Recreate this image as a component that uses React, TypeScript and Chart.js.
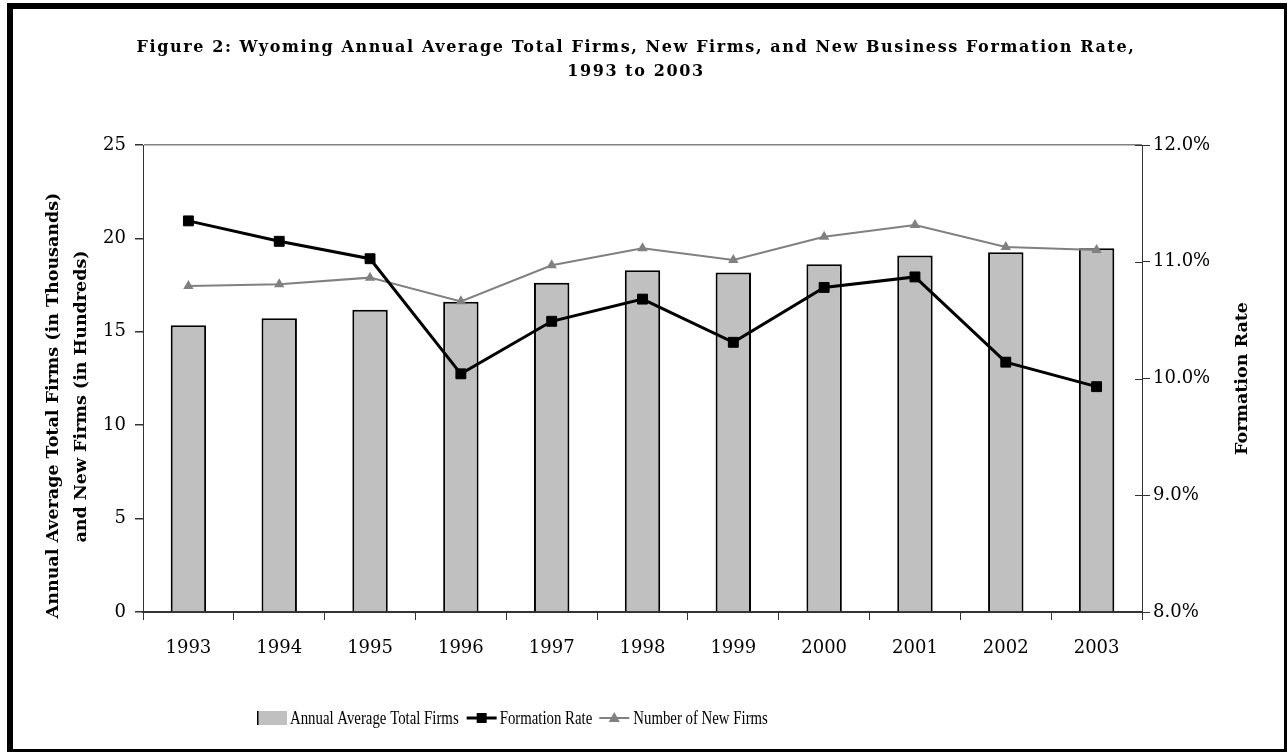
import React, { useEffect, useRef } from "react";
import { Chart, registerables } from "chart.js";

Chart.register(...registerables);

const years = ["1993", "1994", "1995", "1996", "1997", "1998", "1999", "2000", "2001", "2002", "2003"];
const totalFirms = [15.35, 15.72, 16.18, 16.61, 17.63, 18.29, 18.18, 18.61, 19.08, 19.26, 19.47];
const newFirms = [17.45, 17.54, 17.9, 16.63, 18.56, 19.47, 18.84, 20.09, 20.72, 19.54, 19.38];
const formationRate = [11.35, 11.175, 11.026, 10.04, 10.49, 10.68, 10.31, 10.78, 10.87, 10.14, 9.93];
const leftTicks = [0, 5, 10, 15, 20, 25];
const rightTicks = [8, 9, 10, 11, 12];

const titleLines = [
  "Figure 2: Wyoming Annual Average Total Firms, New Firms, and New Business Formation Rate,",
  "1993 to 2003",
];
const leftTitle = ["Annual Average Total Firms (in Thousands)", "and New Firms (in Hundreds)"];
const rightTitle = "Formation Rate";
const legendLabels = ["Annual Average Total Firms", "Formation Rate", "Number of New Firms"];

const SERIF = "'DejaVu Serif', serif";

const extrasPlugin = {
  id: "extras",
  afterDraw(chart: any) {
    const ctx = chart.ctx as CanvasRenderingContext2D;
    const area = chart.chartArea;
    // axis titles
    ctx.save();
    ctx.fillStyle = "#000";
    ctx.font = `bold 17.5px ${SERIF}`;
    ctx.textAlign = "center";
    ctx.textBaseline = "middle";
    const midL = (area.top + area.bottom) / 2;
    ctx.save();
    ctx.translate(53, midL + 27);
    ctx.rotate(-Math.PI / 2);
    ctx.fillText(leftTitle[0], 0, 0);
    ctx.restore();
    ctx.save();
    ctx.translate(81, midL + 18);
    ctx.rotate(-Math.PI / 2);
    ctx.fillText(leftTitle[1], 0, 0);
    ctx.restore();
    ctx.save();
    ctx.translate(1242, midL);
    ctx.rotate(-Math.PI / 2);
    ctx.fillText(rightTitle, 0, 0);
    ctx.restore();
    ctx.restore();

    // right axis inner tick halves
    const y2 = chart.scales.y2;
    ctx.save();
    ctx.strokeStyle = "#333";
    ctx.lineWidth = 1;
    rightTicks.forEach((v) => {
      const y = Math.round(y2.getPixelForValue(v)) + 0.5;
      ctx.beginPath();
      ctx.moveTo(area.right - 7, y);
      ctx.lineTo(area.right, y);
      ctx.stroke();
    });
    ctx.restore();

    // legend
    const ly = 718;
    let x = 257;
    const sx = 0.78;
    ctx.save();
    ctx.font = `19px 'Liberation Serif', serif`;
    ctx.textBaseline = "middle";
    ctx.fillStyle = "#000";
    const drawText = (t: string) => {
      ctx.save();
      ctx.translate(x, ly + 1);
      ctx.scale(sx, 1);
      ctx.fillText(t, 0, 0);
      ctx.restore();
      x += ctx.measureText(t).width * sx;
    };
    // bar swatch
    ctx.fillStyle = "#c0c0c0";
    ctx.fillRect(x, ly - 7, 30, 14);
    ctx.fillStyle = "#000";
    ctx.fillRect(x, ly - 7, 1.5, 14);
    x += 33;
    drawText(legendLabels[0]);
    x += 8;
    // formation rate swatch
    ctx.strokeStyle = "#000";
    ctx.lineWidth = 3;
    ctx.beginPath();
    ctx.moveTo(x, ly);
    ctx.lineTo(x + 30, ly);
    ctx.stroke();
    ctx.fillStyle = "#000";
    ctx.fillRect(x + 15 - 5, ly - 5, 10, 10);
    x += 33;
    drawText(legendLabels[1]);
    x += 7;
    // new firms swatch
    ctx.strokeStyle = "#808080";
    ctx.lineWidth = 2;
    ctx.beginPath();
    ctx.moveTo(x, ly);
    ctx.lineTo(x + 30, ly);
    ctx.stroke();
    ctx.fillStyle = "#808080";
    ctx.beginPath();
    ctx.moveTo(x + 15, ly - 6);
    ctx.lineTo(x + 20.5, ly + 4);
    ctx.lineTo(x + 9.5, ly + 4);
    ctx.closePath();
    ctx.fill();
    x += 34;
    ctx.fillStyle = "#000";
    drawText(legendLabels[2]);
    ctx.restore();
  },
};

export default function App() {
  const ref = useRef<HTMLCanvasElement>(null);

  useEffect(() => {
    if (!ref.current) return;
    const chart = new Chart(ref.current, {
      type: "bar",
      data: {
        labels: years,
        datasets: [
          {
            type: "line",
            label: legendLabels[1],
            data: formationRate,
            yAxisID: "y2",
            borderColor: "#000",
            borderWidth: 3,
            pointStyle: "rect",
            pointRadius: 7,
            pointBackgroundColor: "#000",
            pointBorderColor: "#000",
            pointBorderWidth: 1,
            order: 1,
          },
          {
            type: "line",
            label: legendLabels[2],
            data: newFirms,
            yAxisID: "y",
            borderColor: "#808080",
            borderWidth: 2,
            pointStyle: "triangle",
            pointRadius: 6,
            pointBackgroundColor: "#808080",
            pointBorderColor: "#808080",
            pointBorderWidth: 0,
            order: 2,
          },
          {
            type: "bar",
            label: legendLabels[0],
            data: totalFirms,
            yAxisID: "y",
            backgroundColor: "#c0c0c0",
            borderColor: "#000",
            borderWidth: 2,
            categoryPercentage: 1,
            barPercentage: 0.39,
            order: 3,
          },
        ],
      },
      options: {
        responsive: false,
        animation: false,
        layout: { padding: { top: 145, left: 0, right: 0, bottom: 0 } },
        plugins: {
          legend: { display: false },
          title: { display: false },
          tooltip: { enabled: false },
        },
        scales: {
          x: {
            offset: true,
            grid: {
              display: true,
              offset: true,
              drawOnChartArea: false,
              tickLength: 8,
              tickColor: "#333",
              color: "#333",
            },
            border: { color: "#333", width: 2 },
            ticks: {
              font: { family: SERIF, size: 18 },
              color: "#000",
              padding: 18,
              maxRotation: 0,
            },
            afterFit: (s: any) => {
              s.height = 141;
            },
          },
          y: {
            position: "left",
            min: 0,
            max: 25,
            afterBuildTicks: (s: any) => {
              s.ticks = leftTicks.map((v) => ({ value: v }));
            },
            grid: {
              color: (c: any) => (c.tick && c.tick.value === 25 ? "#808080" : "rgba(0,0,0,0)"),
              lineWidth: 1.5,
              tickLength: 8,
              tickColor: "#333",
            },
            border: { color: "#333", width: 1 },
            ticks: {
              font: { family: SERIF, size: 18 },
              color: "#000",
              padding: 9,
            },
            afterFit: (s: any) => {
              s.width = 143;
            },
          },
          y2: {
            position: "right",
            min: 8,
            max: 12,
            afterBuildTicks: (s: any) => {
              s.ticks = rightTicks.map((v) => ({ value: v }));
            },
            grid: {
              drawOnChartArea: false,
              tickLength: 8,
              tickColor: "#333",
            },
            border: { color: "#333", width: 1 },
            ticks: {
              font: { family: SERIF, size: 18 },
              color: "#000",
              padding: 3,
              callback: (v: any) => Number(v).toFixed(1) + "%",
            },
            afterFit: (s: any) => {
              s.width = 1288 - 1142;
            },
          },
        },
      },
      plugins: [extrasPlugin],
    });
    return () => chart.destroy();
  }, []);

  return (
    <div style={{ position: "absolute", left: 0, top: 0, width: 1288, height: 753, background: "#fff" }}>
      <canvas ref={ref} width={1288} height={753} style={{ position: "absolute", left: 0, top: 0 }} />
      <div
        style={{
          position: "absolute",
          left: 0,
          top: 35,
          width: 1272,
          textAlign: "center",
          fontFamily: SERIF,
          fontWeight: "bold",
          fontSize: 16,
          letterSpacing: "1.6px",
          lineHeight: "24px",
          color: "#000",
        }}
      >
        <div>{titleLines[0]}</div>
        <div>{titleLines[1]}</div>
      </div>
      <div
        style={{
          position: "absolute",
          left: 7,
          top: 3,
          width: 1280,
          height: 749,
          boxSizing: "border-box",
          borderTop: "6px solid #000",
          borderLeft: "6px solid #000",
          borderRight: "3px solid #000",
          borderBottom: "3px solid #000",
          pointerEvents: "none",
        }}
      />
    </div>
  );
}
